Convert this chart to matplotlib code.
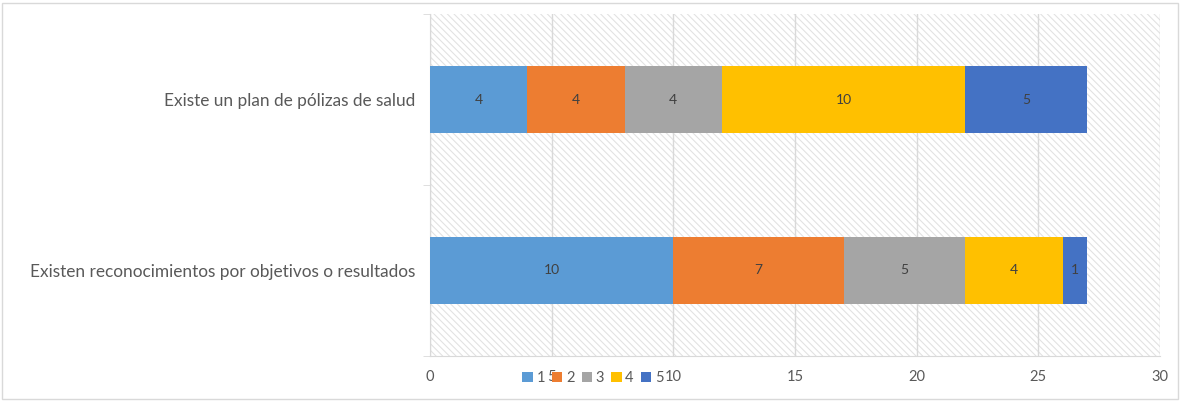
import matplotlib
matplotlib.use("Agg")
import matplotlib.pyplot as plt
from matplotlib.patches import Rectangle
import numpy as np

categories = [
    "Existen reconocimientos por objetivos o resultados",
    "Existe un plan de pólizas de salud",
]
series_names = ["1", "2", "3", "4", "5"]
values = {
    "1": [10, 4],
    "2": [7, 4],
    "3": [5, 4],
    "4": [4, 10],
    "5": [1, 5],
}
colors = ["#5B9BD5", "#ED7D31", "#A5A5A5", "#FFC000", "#4472C4"]
xticks = [0, 5, 10, 15, 20, 25, 30]

plt.rcParams["font.family"] = ["Lato", "DejaVu Sans"]
plt.rcParams["hatch.linewidth"] = 0.8

fig = plt.figure(figsize=(11.8, 4.01), dpi=100)
ax = fig.add_axes([430 / 1180, 45 / 401, 730 / 1180, 342 / 401])

# hatched plot-area background
bg = Rectangle((0, 0), 1, 1, transform=ax.transAxes, facecolor="white",
               edgecolor="#E2E2E2", linewidth=0, hatch="\\\\\\\\\\", zorder=0)
ax.add_patch(bg)

y = np.arange(len(categories))
left = np.zeros(len(categories))
for name, col in zip(series_names, colors):
    vals = np.array(values[name], dtype=float)
    bars = ax.barh(y, vals, left=left, height=0.39, color=col, label=name, zorder=3)
    for rect, v in zip(bars, vals):
        ax.text(rect.get_x() + rect.get_width() / 2, rect.get_y() + rect.get_height() / 2,
                f"{int(v)}", ha="center", va="center", fontsize=10, color="#404040", zorder=4)
    left += vals

ax.set_xlim(0, 30)
ax.set_ylim(-0.5, 1.5)
ax.set_xticks(xticks)
ax.set_xticklabels([str(t) for t in xticks])
ax.set_yticks(y)
ax.set_yticklabels(categories)
ax.set_yticks([-0.5, 0.5, 1.5], minor=True)

ax.grid(axis="x", color="#D9D9D9", linewidth=1, zorder=1)
ax.set_axisbelow(True)
for s in ["top", "right"]:
    ax.spines[s].set_visible(False)
ax.spines["left"].set_color("#D9D9D9")
ax.spines["bottom"].set_color("#D9D9D9")

ax.tick_params(axis="x", length=0, pad=10, labelsize=10.5, labelcolor="#595959")
ax.tick_params(axis="y", which="major", length=0, pad=10.5, labelsize=12.4, labelcolor="#595959")
ax.tick_params(axis="y", which="minor", length=5, color="#D9D9D9")

leg = fig.legend(loc="center", bbox_to_anchor=(593 / 1180, 1 - 378 / 401), ncol=5, frameon=False,
                 fontsize=10.5, handlelength=0.7, handleheight=0.7, handletextpad=0.25,
                 columnspacing=0.5, labelcolor="#595959")

# chart border
fig.patches.append(Rectangle((2 / 1180, 2 / 401), 1176 / 1180, 396 / 401, transform=fig.transFigure,
                             fill=False, edgecolor="#D9D9D9", linewidth=1))

fig.savefig("out.png", dpi=100)
